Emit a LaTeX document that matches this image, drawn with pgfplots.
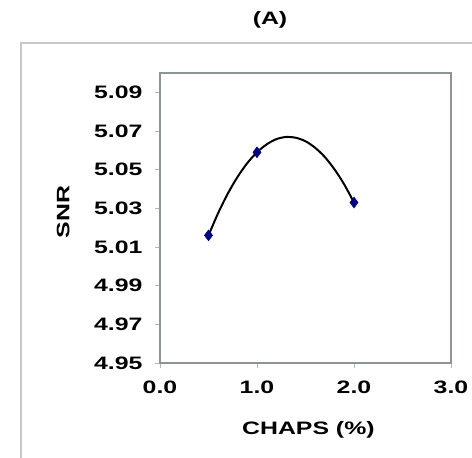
\documentclass[border=0pt]{standalone}
\usepackage{fontspec}
\setmainfont{Liberation Sans}[FakeStretch=1.38]
\usepackage{pgfplots}
\pgfplotsset{compat=1.18}
\definecolor{axisgray}{HTML}{8C9494}
\definecolor{tickgray}{HTML}{B4B8B8}
\definecolor{framegray}{HTML}{C8C8C8}
\definecolor{navy}{HTML}{000080}
\begin{document}
\begin{tikzpicture}
\path[use as bounding box] (0bp,0bp) rectangle (472bp,458bp);
\draw[framegray, line width=1.2bp] (21bp,0bp) -- (21bp,415bp) -- (472bp,415bp);
\node[font=\fontsize{18bp}{20bp}\selectfont\bfseries] at (270bp,438bp) {(A)};
\begin{axis}[
  at={(160bp,95bp)}, anchor=south west,
  scale only axis, width=291bp, height=290bp,
  xmin=0, xmax=3, ymin=4.95, ymax=5.10,
  xtick={0,1,2,3},
  ytick={4.95,4.97,4.99,5.01,5.03,5.05,5.07,5.09},
  yticklabels={4.95,4.97,4.99,5.01,5.03,5.05,5.07,5.09},
  xticklabels={0.0,1.0,2.0,3.0},
  axis line style={axisgray, line width=1.2bp},
  tick style={tickgray, line width=0.8bp},
  tick align=outside, major tick length=5bp,
  xtick pos=bottom, ytick pos=left,
  ticklabel style={font=\fontsize{18bp}{20bp}\selectfont\bfseries},
  /pgf/number format/assume math mode=true,
  xticklabel style={yshift=-9bp},
  yticklabel style={xshift=-9bp},
  label style={font=\fontsize{18bp}{20bp}\selectfont\bfseries},
  xlabel={CHAPS (\%)},
  xlabel style={at={(axis description cs:0.51,-0.231)}, anchor=center},
  ylabel={SNR},
  ylabel style={at={(axis description cs:-0.333,0.52)}, anchor=center},
  clip=false,
]
\addplot[black, line width=2bp, smooth, no marks] coordinates {
(0.5,5.0160) (0.6,5.0276) (0.7,5.0377) (0.8,5.0463) (0.9,5.0534) (1.0,5.0590)
(1.1,5.0631) (1.2,5.0658) (1.3,5.0669) (1.4,5.0665) (1.5,5.0647) (1.6,5.0613)
(1.7,5.0565) (1.8,5.0501) (1.9,5.0423) (2.0,5.0330)
};
\addplot[only marks, mark=diamond*, mark size=5.5bp, navy, mark options={fill=navy, draw=navy}] coordinates {
(0.5,5.016) (1.0,5.059) (2.0,5.033)
};
\end{axis}
\end{tikzpicture}
\end{document}
